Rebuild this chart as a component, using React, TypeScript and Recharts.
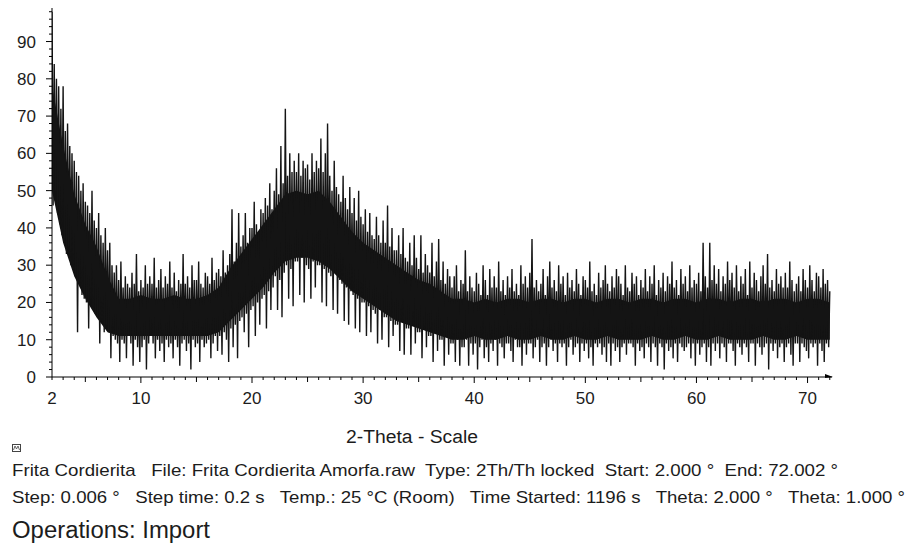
import { ComposedChart, Line, Area, XAxis, YAxis } from "recharts";

// scan: 2.000 - 72.002 deg, values every 0.1 deg
const START = 2;
const STEP = 0.1;

// local maxima at 2.0, 2.2, 2.4 ... 72.0 (one row per degree)
const spikeTops = [
  98, 84, 80, 78, 72,
  78, 66, 68, 62, 60,
  58, 55, 54, 50, 52,
  47, 46, 44, 50, 42,
  40, 44, 38, 36, 40,
  34, 36, 30, 28, 30,
  26, 31, 24, 27, 25,
  24, 28, 25, 33, 23,
  26, 24, 30, 25, 27,
  25, 32, 24, 26, 29,
  24, 27, 25, 31, 24,
  28, 23, 26, 25, 33,
  25, 27, 24, 30, 26,
  26, 31, 25, 24, 28,
  27, 25, 32, 26, 28,
  29, 27, 34, 28, 30,
  33, 45, 31, 36, 44,
  35, 38, 44, 36, 40,
  40, 47, 41, 39, 45,
  44, 48, 46, 52, 45,
  50, 56, 49, 62, 52,
  72, 54, 60, 55, 58,
  55, 60, 54, 58, 56,
  57, 53, 60, 55, 58,
  56, 64, 55, 60, 68,
  54, 50, 58, 51, 49,
  47, 54, 48, 45, 51,
  44, 48, 42, 50, 43,
  41, 45, 39, 44, 38,
  37, 43, 38, 36, 42,
  36, 46, 35, 40, 34,
  34, 38, 33, 40, 32,
  31, 36, 30, 38, 32,
  29, 38, 28, 33, 30,
  28, 36, 27, 31, 37,
  26, 31, 25, 29, 27,
  24, 27, 30, 23, 26,
  25, 34, 23, 27, 24,
  23, 28, 25, 22, 30,
  26, 22, 29, 24, 27,
  24, 31, 23, 26, 22,
  27, 24, 29, 23, 25,
  22, 30, 25, 27, 24,
  28, 37, 24, 26, 23,
  25, 29, 22, 27, 31,
  24, 26, 23, 30, 25,
  27, 22, 28, 24, 26,
  23, 29, 25, 22, 27,
  26, 24, 31, 23, 25,
  22, 28, 24, 26, 30,
  25, 23, 27, 24, 29,
  27, 25, 22, 30, 24,
  23, 28, 25, 27, 22,
  26, 24, 29, 23, 27,
  25, 30, 22, 26, 24,
  28, 23, 27, 25, 31,
  24, 26, 22, 29, 25,
  27, 23, 30, 24, 26,
  25, 28, 23, 36, 27,
  24, 36, 26, 30, 25,
  29, 23, 27, 25, 31,
  26, 28, 24, 30, 23,
  27, 25, 29, 22, 31,
  24, 28, 26, 23, 27,
  30, 25, 33, 24, 26,
  23, 29, 25, 27, 24,
  28, 24, 31, 26, 23,
  25, 27, 23, 29, 26,
  24, 30, 26, 23, 28,
  27, 24, 29, 25, 26,
  23,
];

// local minima at 2.1, 2.3 ... 71.9
const spikeBottoms = [
  46, 50, 44, 41, 38,
  36, 33, 35, 30, 29,
  27, 12, 25, 22, 21,
  20, 13, 21, 18, 17,
  16, 9, 15, 12, 14,
  12, 5, 11, 10, 9,
  4, 10, 9, 5, 11,
  9, 3, 10, 8, 4,
  8, 10, 2, 9, 11,
  9, 5, 10, 7, 9,
  4, 10, 8, 9, 5,
  10, 8, 3, 9, 10,
  7, 9, 2, 10, 8,
  9, 4, 10, 8, 9,
  10, 5, 9, 11, 7,
  11, 6, 12, 10, 4,
  13, 8, 14, 5, 15,
  16, 12, 17, 8, 18,
  19, 11, 20, 14, 21,
  22, 13, 23, 18, 24,
  27, 18, 26, 16, 28,
  30, 21, 29, 19, 31,
  31, 22, 32, 20, 30,
  29, 21, 31, 24, 30,
  30, 20, 29, 19, 28,
  27, 18, 28, 17, 26,
  25, 15, 24, 14, 23,
  22, 13, 21, 12, 20,
  20, 11, 19, 12, 18,
  17, 9, 18, 10, 16,
  16, 8, 15, 11, 14,
  14, 7, 15, 6, 13,
  13, 6, 14, 9, 12,
  12, 5, 13, 8, 11,
  11, 4, 12, 7, 10,
  10, 3, 11, 6, 9,
  9, 4, 10, 3, 8,
  8, 10, 3, 9, 6,
  9, 2, 8, 10, 5,
  8, 4, 9, 7, 10,
  3, 9, 8, 5, 9,
  9, 7, 4, 10, 8,
  8, 3, 9, 6, 9,
  9, 5, 8, 10, 4,
  8, 9, 3, 8, 10,
  7, 9, 4, 9, 8,
  9, 3, 8, 10, 6,
  8, 9, 4, 9, 7,
  9, 5, 8, 3, 9,
  8, 9, 6, 8, 4,
  9, 3, 9, 7, 8,
  4, 8, 9, 6, 9,
  9, 8, 3, 9, 7,
  8, 5, 9, 8, 4,
  9, 8, 3, 9, 8,
  2, 9, 7, 8, 5,
  9, 4, 9, 8, 7,
  8, 9, 5, 9, 3,
  9, 6, 8, 9, 4,
  8, 3, 9, 7, 9,
  5, 9, 8, 4, 9,
  9, 7, 3, 9, 8,
  6, 9, 8, 4, 9,
  9, 3, 9, 8, 6,
  8, 9, 2, 9, 7,
  9, 5, 8, 9, 4,
  8, 9, 6, 3, 9,
  9, 4, 9, 8, 7,
  5, 9, 8, 9, 3,
  9, 7, 4, 9, 8,
];

// dense core of the noise band, one value per degree (2..72)
const bandDegrees = [
  2, 3, 4, 5, 6, 7, 8, 9, 10, 11, 12, 13, 14, 15, 16, 17, 18, 19, 20, 21, 22, 23, 24, 25,
  26, 27, 28, 29, 30, 31, 32, 33, 34, 35, 36, 37, 38, 39, 40, 41, 42, 43, 44, 45, 46, 47,
  48, 49, 50, 51, 52, 53, 54, 55, 56, 57, 58, 59, 60, 61, 62, 63, 64, 65, 66, 67, 68, 69,
  70, 71, 72,
];
const bandLow = [
  50, 36, 27, 21, 16, 12, 11, 11, 11, 11, 11, 11, 11, 11, 11, 12, 15, 18, 21, 24, 28, 31, 32, 32,
  31, 29, 26, 23, 21, 19, 17, 15, 14, 13, 12, 11, 10, 10, 11, 10, 10, 11, 10, 10, 11, 10,
  10, 11, 10, 10, 11, 10, 10, 10, 11, 10, 10, 11, 10, 10, 11, 10, 10, 10, 11, 10, 10, 11,
  10, 10, 10,
];
const bandHigh = [
  78, 62, 49, 41, 35, 27, 21, 21, 22, 21, 21, 22, 21, 21, 22, 24, 29, 33, 37, 41, 45, 49, 50, 49,
  50, 47, 43, 39, 36, 34, 32, 30, 28, 26, 25, 23, 21, 21, 20, 21, 20, 21, 21, 20, 21, 21,
  20, 21, 21, 20, 21, 21, 20, 21, 21, 20, 21, 21, 20, 21, 21, 20, 21, 21, 20, 21, 21, 20,
  21, 21, 20,
];

const yLabels = [0, 10, 20, 30, 40, 50, 60, 70, 80, 90];
const xLabels = [2, 10, 20, 30, 40, 50, 60, 70];

const rows: { x: number; spike: number; band: number[] | null }[] = [];
const total = spikeTops.length + spikeBottoms.length;
for (let i = 0; i < total; i++) {
  const x = Math.round((START + i * STEP) * 10) / 10;
  const spike = i % 2 === 0 ? spikeTops[i / 2] : spikeBottoms[(i - 1) / 2];
  const bi = bandDegrees.indexOf(x);
  rows.push({ x, spike, band: bi >= 0 ? [bandLow[bi], bandHigh[bi]] : null });
}

const xTicks: number[] = [];
for (let t = 2; t <= 72; t++) xTicks.push(t);
const yTicks: number[] = [];
for (let t = 0; t <= 98; t += 2) yTicks.push(t);

const FONT = "'Liberation Sans', Arial, sans-serif";
const INK = "#1c1c1c";

function XTick(props: any) {
  const { x, y, payload } = props;
  const v = payload.value;
  const labelled = xLabels.includes(v);
  const len = v % 10 === 0 ? 6 : v % 5 === 0 ? 5 : 3;
  return (
    <g>
      <line x1={x} x2={x} y1={y} y2={y + len} stroke="#000" strokeWidth={1} />
      {labelled && (
        <text x={x} y={y + 27} textAnchor="middle" fontSize={17} fontFamily={FONT} fill={INK}>
          {v}
        </text>
      )}
    </g>
  );
}

function YTick(props: any) {
  const { x, y, payload } = props;
  const v = payload.value;
  const labelled = yLabels.includes(v);
  const len = v % 10 === 0 ? 6 : 3;
  return (
    <g>
      <line x1={x - len} x2={x} y1={y} y2={y} stroke="#000" strokeWidth={1} />
      {labelled && (
        <text x={x - 16} y={y + 6} textAnchor="end" fontSize={17} fontFamily={FONT} fill={INK}>
          {v}
        </text>
      )}
    </g>
  );
}

function AxisTitle(props: any) {
  const { x, y, width } = props.viewBox;
  const end = x + width;
  return (
    <g>
      <polygon points={`${end - 7},${y - 3} ${end + 1},${y} ${end - 7},${y + 1}`} fill="#000" />
      <text
        x={x + 294}
        y={y + 66}
        fontSize={18}
        fontFamily={FONT}
        fill={INK}
        textLength={132}
        lengthAdjust="spacingAndGlyphs"
      >
        2-Theta - Scale
      </text>
    </g>
  );
}

export default function App() {
  return (
    <div
      style={{
        position: "absolute",
        left: 0,
        top: 0,
        width: 908,
        height: 544,
        background: "#fff",
        overflow: "hidden",
      }}
    >
      <ComposedChart
        width={908}
        height={460}
        data={rows}
        margin={{ top: 8, right: 76, bottom: 53, left: 8 }}
      >
        <XAxis
          dataKey="x"
          type="number"
          domain={[2, 72.2]}
          ticks={xTicks}
          interval={0}
          allowDataOverflow
          tickSize={0}
          tickMargin={0}
          tickLine={false}
          tick={<XTick />}
          axisLine={{ stroke: "#000" }}
          height={30}
          label={<AxisTitle />}
        />
        <YAxis
          type="number"
          domain={[0, 99]}
          ticks={yTicks}
          interval={0}
          allowDataOverflow
          tickSize={0}
          tickMargin={0}
          tickLine={false}
          tick={<YTick />}
          axisLine={{ stroke: "#000" }}
          width={44}
        />
        <Area
          dataKey="band"
          type="linear"
          stroke="none"
          fill="#111"
          fillOpacity={1}
          connectNulls
          dot={false}
          activeDot={false}
          isAnimationActive={false}
        />
        <Line
          dataKey="spike"
          type="linear"
          stroke="#141414"
          strokeWidth={1.4}
          dot={false}
          activeDot={false}
          isAnimationActive={false}
        />
      </ComposedChart>

      <svg
        width={908}
        height={544}
        style={{ position: "absolute", left: 0, top: 0, pointerEvents: "none" }}
        fontFamily={FONT}
        fill={INK}
      >
        <rect x={12.5} y={444.5} width={8} height={7} fill="none" stroke="#444" strokeWidth={1} />
        <polyline points="13.5,450 15,446 16.5,449 18,446 19.5,450" fill="none" stroke="#444" strokeWidth={0.8} />
        <text x={12} y={476} fontSize={17} textLength={826} lengthAdjust="spacingAndGlyphs" style={{ whiteSpace: "pre" }}>
          {"Frita Cordierita   File: Frita Cordierita Amorfa.raw  Type: 2Th/Th locked  Start: 2.000 °  End: 72.002 °"}
        </text>
        <text x={12} y={503} fontSize={17} textLength={893} lengthAdjust="spacingAndGlyphs" style={{ whiteSpace: "pre" }}>
          {"Step: 0.006 °   Step time: 0.2 s   Temp.: 25 °C (Room)   Time Started: 1196 s   Theta: 2.000 °   Theta: 1.000 °"}
        </text>
        <text x={12} y={538} fontSize={23} textLength={198} lengthAdjust="spacingAndGlyphs" style={{ whiteSpace: "pre" }}>
          Operations: Import
        </text>
      </svg>
    </div>
  );
}
